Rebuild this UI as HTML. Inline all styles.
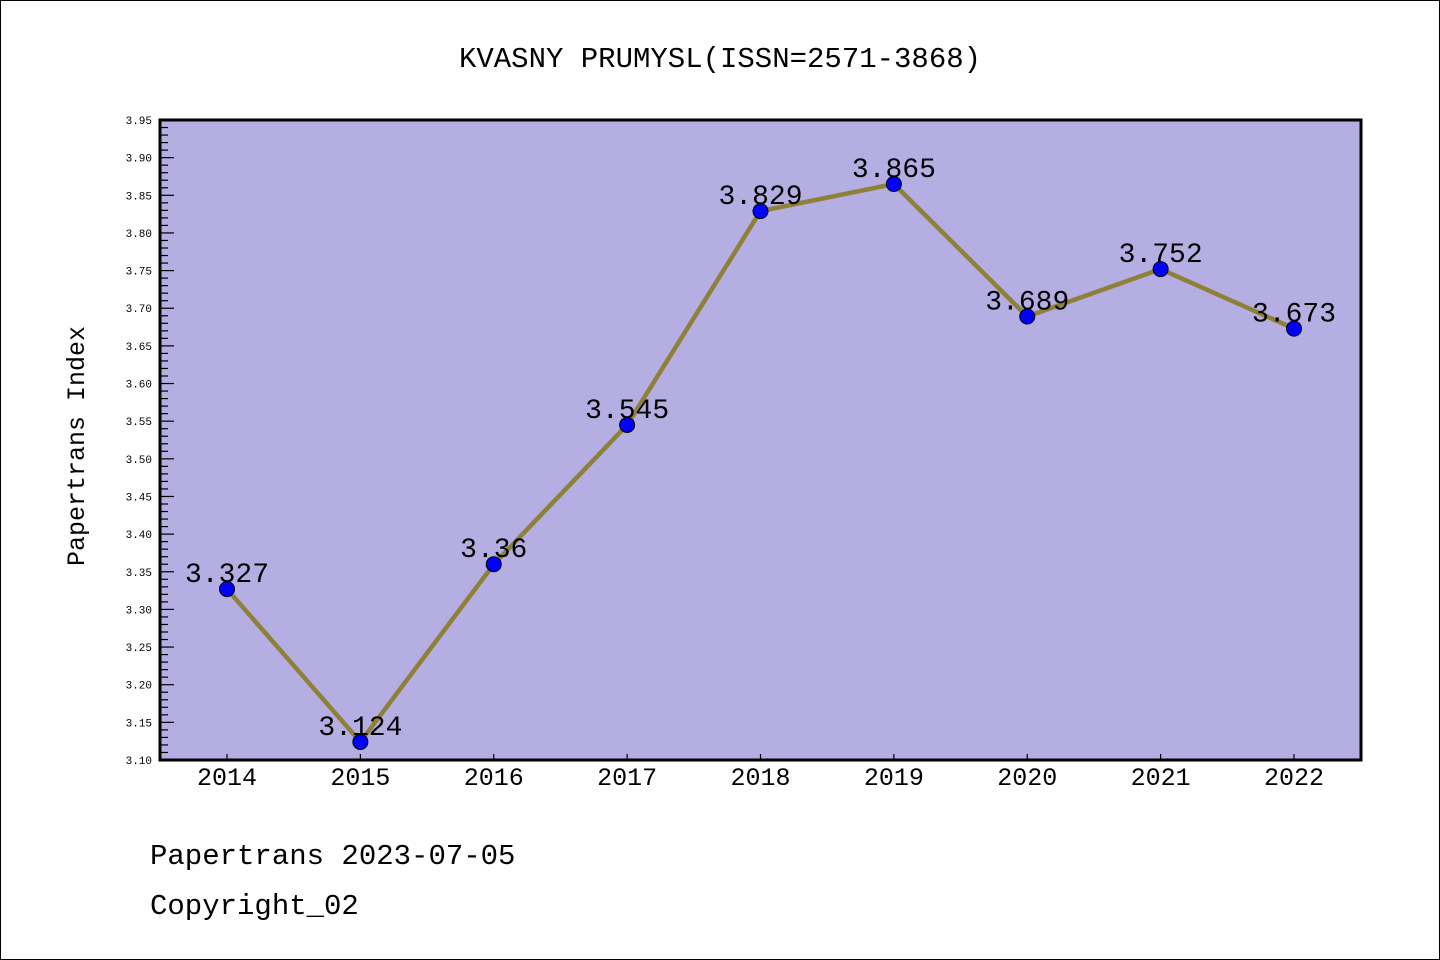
<!DOCTYPE html>
<html><head><meta charset="utf-8"><style>
html,body{margin:0;padding:0;background:#fff}
svg{display:block}
text{font-family:"Liberation Mono","DejaVu Sans Mono",monospace}
</style></head><body>
<svg id="c" width="1440" height="960">
<rect x="0.5" y="0.5" width="1439" height="959" fill="#fff" stroke="#000" stroke-width="1"/>
<text x="720" y="67" text-anchor="middle" font-size="29">KVASNY PRUMYSL(ISSN=2571-3868)</text>
<rect x="160" y="120" width="1201" height="640" fill="#b4aee2"/>
<g id="ticks"></g>
<g id="series"></g>
<rect x="160" y="120" width="1201" height="640" fill="none" stroke="#000" stroke-width="3"/>
<text transform="translate(84,446) rotate(-90)" text-anchor="middle" font-size="25">Papertrans Index</text>
<text x="150" y="864" font-size="29">Papertrans 2023-07-05</text>
<text x="150" y="914" font-size="29">Copyright_02</text>
</svg>
<script>
const years = [2014,2015,2016,2017,2018,2019,2020,2021,2022];
const values = [3.327,3.124,3.36,3.545,3.829,3.865,3.689,3.752,3.673];
const valueLabels = ["3.327","3.124","3.36","3.545","3.829","3.865","3.689","3.752","3.673"];
const yTicks = ["3.10","3.15","3.20","3.25","3.30","3.35","3.40","3.45","3.50","3.55","3.60","3.65","3.70","3.75","3.80","3.85","3.90","3.95"];
{
const NS="http://www.w3.org/2000/svg";
const yMin=3.10,yMax=3.95,plotTop=120,plotBot=760;
const yS=v=>plotBot-(v-yMin)/(yMax-yMin)*(plotBot-plotTop);
const xS=i=>227+i*(1294-227)/(years.length-1);
const tg=document.getElementById('ticks'), sg=document.getElementById('series');
function mk(tag,attrs,parent){const e=document.createElementNS(NS,tag);for(const k in attrs)e.setAttribute(k,attrs[k]);parent.appendChild(e);return e;}
for(let k=0;k<=85;k++){const v=yMin+k*0.01;const major=k%5===0;
 const l=mk('line',{x1:160,x2:160+(major?14:8),y1:yS(v),y2:yS(v),stroke:'#000','stroke-width':1.2},tg);
 
 }
yTicks.forEach(t=>{const e=mk('text',{x:152,y:yS(parseFloat(t))+4,'text-anchor':'end','font-size':11,'font-family':'Liberation Sans, sans-serif'},tg);e.textContent=t;
 
 });
years.forEach((yr,i)=>{const l=mk('line',{x1:xS(i),x2:xS(i),y1:760,y2:754,stroke:'#000','stroke-width':1.2},tg);
 
 
 const e=mk('text',{x:xS(i),y:785,'text-anchor':'middle','font-size':25,'font-family':'Liberation Sans, sans-serif'},tg);e.textContent=yr;
 
 });
const pl=mk('polyline',{points:values.map((v,i)=>xS(i)+','+yS(v)).join(' '),fill:'none',stroke:'#8f8037','stroke-width':4.5,'stroke-linejoin':'round'},sg);


values.forEach((v,i)=>{const c=mk('circle',{cx:xS(i),cy:yS(v),r:7.5,fill:'#0000ff',stroke:'#000','stroke-width':1},sg);
 
 
 const t=mk('text',{x:xS(i),y:yS(v)-7,'text-anchor':'middle','font-size':28},sg);t.textContent=valueLabels[i];
 
 });
}
</script>
</body></html>
